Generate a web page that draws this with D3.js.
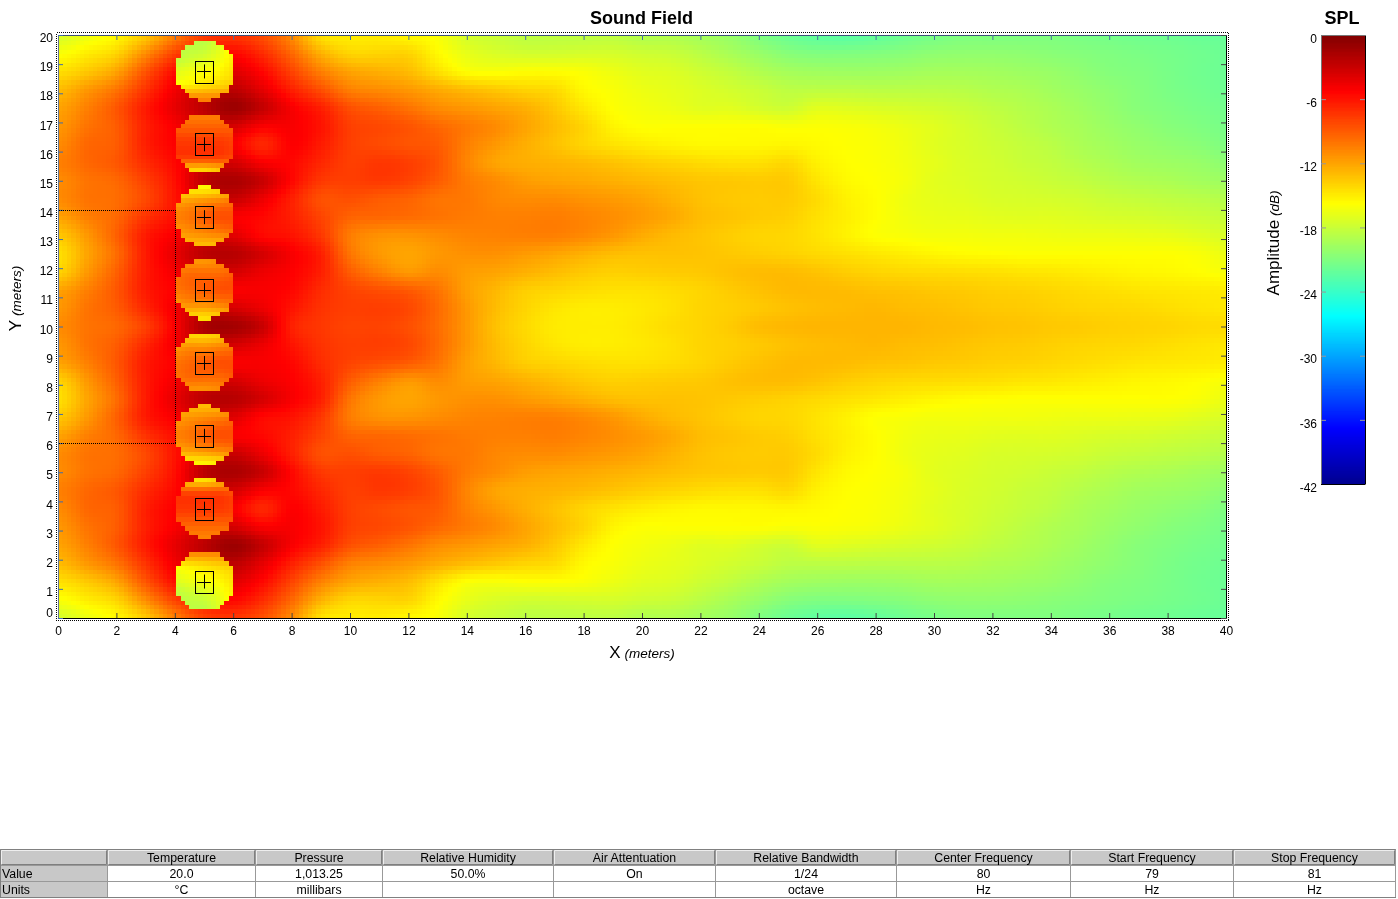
<!DOCTYPE html>
<html>
<head>
<meta charset="utf-8">
<title>Sound Field</title>
<script src="https://cdn.jsdelivr.net/npm/d3@7"></script>
<style>
  body { margin: 0; background: #fff; width: 1398px; height: 899px; overflow: hidden; position: relative; }
  canvas, svg { position: absolute; left: 0; top: 0; }
  text { font-family: "Liberation Sans", Arial, sans-serif; fill: #000; }
</style>
</head>
<body>
<canvas id="field" width="1398" height="899"></canvas>
<svg id="chart" width="1398" height="899"></svg>
<script>
// SPL in dB, one list per row, x = 0..40 in 1 m steps.
// rows go from y=0 up to y=10 every 0.625 m, the field mirrors around y=10
const rowY0000 = [-17.5,-16.5,-15.5,-13.5,-10.5,-8,-7.5,-8.5,-11,-14.5,-15,-15,-15.5,-16,-17.5,-18,-18.5,-18.5,-18.5,-18.5,-19,-19,-19.5,-20,-21,-21.8,-22.3,-22.5,-22.2,-21.7,-21.3,-21,-21,-21,-21,-21.2,-21.4,-21.6,-21.7,-21.9,-22];
const rowY0625 = [-16,-15,-14,-11,-8,-6,-5.5,-7,-9.5,-12.5,-14,-14,-14,-15.5,-16.7,-17.3,-17.6,-17.6,-17.5,-17.5,-17.8,-18,-18.6,-19.3,-20,-20.7,-21,-21,-20.9,-20.7,-20.4,-20.3,-20.3,-20.4,-20.6,-20.8,-21,-21.2,-21.4,-21.6,-21.8];
const rowY1250 = [-14.5,-13.5,-12,-8.7,-5.8,-4,-4,-5.5,-8,-10.5,-12,-12.5,-13,-14.5,-15.8,-16,-15.8,-15.8,-16,-16.5,-17,-17.2,-17.8,-18.3,-19,-19.5,-19.7,-19.8,-19.8,-19.7,-19.5,-19.5,-19.6,-19.8,-20,-20.4,-20.8,-21,-21.3,-21.6,-21.8];
const rowY1875 = [-13,-11.5,-10,-7.3,-4.8,-3,-2.5,-4.2,-6.5,-8.5,-10.5,-11,-11.5,-12.3,-13,-13.5,-14,-14.3,-15.5,-16,-16.5,-16.8,-17.2,-17.6,-18,-18.5,-18.5,-18.5,-18.6,-18.6,-18.6,-18.7,-19,-19.2,-19.6,-20,-20.4,-20.8,-21.2,-21.5,-21.7];
const rowY2500 = [-12,-10.5,-8.8,-6.3,-4.3,-2.5,-1.2,-2.8,-5,-6.5,-8.5,-9.2,-10,-11,-11.5,-12,-12.5,-13.5,-14.8,-15.8,-16.2,-16.5,-17,-17,-17.5,-17.8,-17,-17.1,-17.3,-17.5,-17.7,-18,-18.4,-18.8,-19.2,-19.7,-20.2,-20.7,-21,-21.3,-21.5];
const rowY3125 = [-11.5,-10,-9,-6.5,-5,-3.5,-3.5,-5,-5,-6,-7.8,-8.2,-8.7,-9.5,-10.3,-11,-12,-13,-14,-15.3,-15.8,-15.8,-15.8,-15.8,-15.8,-16,-15.9,-16,-16.2,-16.6,-17,-17.5,-18,-18.5,-19,-19.4,-19.9,-20.3,-20.7,-21,-21.3];
const rowY3750 = [-11,-9.5,-9,-6.5,-5.2,-4.5,-5,-6.8,-5.2,-6.3,-7.8,-8.3,-8.7,-9,-10.5,-11.5,-12.4,-13.2,-14,-14.6,-15,-15.3,-15.5,-15.5,-15.5,-15.4,-15.6,-15.8,-16,-16.4,-17,-17.4,-17.8,-18.2,-18.6,-19.2,-19.6,-20,-20.3,-20.6,-21];
const rowY4375 = [-10.5,-9.5,-8.8,-7,-5.5,-3.5,-3.5,-5,-5.5,-6.8,-7.8,-7.5,-7.8,-8.7,-10.7,-12,-12.4,-12.6,-12.9,-13.3,-13.7,-14,-14.3,-14.5,-14.5,-14.2,-15.2,-15.7,-15.9,-16.3,-16.8,-17.3,-17.6,-18,-18.3,-18.8,-19.2,-19.6,-19.8,-20,-20.4];
const rowY5000 = [-11,-10,-9.5,-7.8,-5.8,-2.5,-1.8,-3,-5.5,-7.5,-7.8,-7.6,-8,-9,-10.3,-11,-11.7,-12,-12.2,-12.5,-12.8,-13.1,-13.4,-13.5,-13.6,-13.6,-14.7,-15.5,-15.8,-16.2,-16.9,-17.2,-17.5,-17.7,-18,-18.3,-18.7,-19,-19.2,-19.5,-19.7];
const rowY5625 = [-11,-10,-9.7,-8.2,-6,-3.5,-3,-4.5,-6.5,-8.5,-8.5,-9,-9.3,-10,-10.2,-10.8,-11,-11,-11.3,-11.6,-12,-12.6,-13.2,-13.5,-13.6,-13.6,-14.3,-15.2,-15.7,-16.4,-16.8,-17,-17.3,-17.4,-17.5,-17.7,-18,-18.2,-18.4,-18.6,-18.8];
const rowY6250 = [-12,-10.5,-9.5,-7.3,-5.8,-4.5,-5,-5.5,-6.5,-8,-9.3,-9.5,-9.7,-10,-10.3,-10.5,-10.5,-10.4,-10.7,-11.1,-11.6,-12.2,-13,-13.3,-13.6,-13.8,-14.5,-15.1,-15.7,-16.3,-16.6,-16.7,-16.9,-17,-17,-17.2,-17.4,-17.5,-17.7,-17.9,-18.1];
const rowY6875 = [-13.5,-11.5,-9.2,-6.3,-5,-3.5,-4,-5.5,-6,-7.5,-10.3,-11.2,-11.3,-11,-10.7,-10.6,-10.5,-10.5,-10.9,-11.5,-12.3,-12.9,-13.3,-13.7,-14,-14.1,-14.6,-15.2,-15.8,-16,-16.2,-16.2,-16.3,-16.3,-16.4,-16.5,-16.5,-16.6,-16.7,-17,-17.3];
const rowY7500 = [-14.5,-12,-9.7,-6.3,-4.3,-2.5,-2.3,-3.5,-5,-6.5,-10,-11.5,-12,-11.5,-11.2,-11.2,-11.6,-12,-12.5,-13,-13.2,-13.2,-13.3,-13.5,-13.7,-13.9,-14.2,-14.5,-14.8,-15.1,-15.4,-15.6,-15.7,-15.8,-15.8,-15.8,-15.8,-15.8,-15.8,-16,-16.5];
const rowY8125 = [-14,-11.5,-9.2,-6.3,-4.8,-3.5,-3.5,-4.5,-5.2,-6.5,-9,-10.5,-11.5,-11,-11.7,-12,-12.5,-13,-13.5,-13.8,-13.7,-13.6,-13.5,-13.2,-13,-13,-13.3,-13.7,-14,-14.2,-14.3,-14.4,-14.5,-14.7,-14.8,-15,-15.2,-15.4,-15.5,-15.7,-16];
const rowY8750 = [-12,-10.5,-8.8,-6.3,-5.2,-4.5,-5,-5,-5.5,-7,-8,-8.5,-9,-10,-11.8,-12.8,-13.7,-14,-14.3,-14.5,-14.5,-14.3,-14,-13.6,-13.2,-12.9,-12.9,-13,-13.2,-13.3,-13.5,-13.6,-13.8,-13.9,-14.1,-14.3,-14.5,-14.7,-14.8,-14.9,-15];
const rowY9375 = [-11.5,-10,-9,-6.8,-4.8,-3,-3.5,-4.5,-6,-7.3,-7.8,-7.8,-8.2,-9.6,-11.5,-13,-14,-14.7,-15,-15,-14.8,-14.5,-14,-13.8,-13.5,-13.2,-13,-12.9,-12.8,-13,-13.1,-13.3,-13.5,-13.6,-13.8,-14,-14.1,-14.2,-14.4,-14.6,-14.8];
const rowY10000 = [-11,-10,-9.5,-7.8,-5,-1.8,-1.5,-3,-6.5,-7.5,-8,-8,-8.5,-9.7,-11.5,-13.2,-14.2,-14.9,-15,-15,-14.7,-14.3,-14,-13.6,-13,-12.8,-12.7,-12.7,-12.7,-12.7,-12.9,-13,-13.2,-13.3,-13.5,-13.6,-13.8,-13.9,-14,-14.2,-14.3];

// speakers and the near field patch around each one (5x5, dy -1..1 up, dx -1..1)
const speakerX = 5;
const speakerY = [1.25, 3.75, 6.25, 8.75, 11.25, 13.75, 16.25, 18.75];
const patch1 = [[-18,-18.5,-18.5,-17,-15],[-18.5,-18,-17.5,-16.5,-15],[-17,-16.5,-16,-15.5,-14.5],[-15.5,-15,-14.5,-14,-13.5],[-10.5,-10.5,-10.5,-10.5,-10.5]];
const patch2 = [[-10.5,-10.5,-10.5,-10.5,-10.5],[-9,-9,-9,-9,-9],[-7.5,-7.5,-7.5,-7.5,-8],[-8,-8,-8,-8,-8.5],[-15,-15,-15,-14,-13]];
const patch3 = [[-15.5,-15.5,-15.5,-15,-14],[-12,-11.5,-11,-10.5,-10],[-10.5,-10,-9,-8.5,-8.5],[-11.5,-11,-10.5,-10,-9.5],[-13,-13,-13,-13,-13]];
const patch4 = [[-11.5,-11.5,-11.5,-11,-11],[-10,-9.5,-9.5,-9.5,-9],[-10,-9.5,-9,-8.5,-8.5],[-11.5,-11,-11,-10.5,-10],[-14.5,-14.5,-14.5,-14,-13]];

const xTicks = [0,2,4,6,8,10,12,14,16,18,20,22,24,26,28,30,32,34,36,38,40];
const yTicks = [0,1,2,3,4,5,6,7,8,9,10,11,12,13,14,15,16,17,18,19,20];
const splTicks = [0,-6,-12,-18,-24,-30,-36,-42];
// jet as it sits on the -42..0 range
const jetStops = [-42,-36.75,-26.25,-21,-15.75,-5.25,0];
const jetColors = ["#00008f","#0000ff","#00ffff","#80ff80","#ffff00","#ff0000","#800000"];
// dotted coverage outline
const coverageX = [0,4,4,0];
const coverageY = [14,14,6,6];

const tableHeaders = ["","Temperature","Pressure","Relative Humidity","Air Attentuation","Relative Bandwidth","Center Frequency","Start Frequency","Stop Frequency"];
const tableValues = ["Value","20.0","1,013.25","50.0%","On","1/24","80","79","81"];
const tableUnits = ["Units","°C","millibars","","","octave","Hz","Hz","Hz"];
const tableEdges = [0,107,255,382,553,715,896,1070,1233,1395];

const halfRows = [rowY0000,rowY0625,rowY1250,rowY1875,rowY2500,rowY3125,rowY3750,rowY4375,rowY5000,rowY5625,rowY6250,rowY6875,rowY7500,rowY8125,rowY8750,rowY9375,rowY10000];
const fieldRows = halfRows.concat(halfRows.slice(0, -1).reverse());
const flip = p => p.slice().reverse();
const patches = [patch1,patch2,patch3,patch4,flip(patch4),flip(patch3),flip(patch2),flip(patch1)];

const x = d3.scaleLinear().domain([0,40]).range([58,1226]);
const y = d3.scaleLinear().domain([0,20]).range([618,35]);
const barY = d3.scaleLinear().domain([0,-42]).range([35,484]);
const color = d3.scaleLinear().domain(jetStops).range(jetColors).clamp(true);

// smooth resampling for display only, the plot is painted in 0.15 m cells
function cubic(a, b, c, d, t) {
  return b + 0.5 * t * (c - a + t * (2 * a - 5 * b + 4 * c - d + t * (3 * (b - c) + d - a)));
}
function sample(grid, fx, fy) {
  const nr = grid.length - 1, nc = grid[0].length - 1;
  const cl = (v, m) => Math.max(0, Math.min(m, v));
  const i = cl(Math.floor(fy), nr - 1), j = cl(Math.floor(fx), nc - 1);
  const tx = fx - j, ty = fy - i;
  const along = r => cubic(r[cl(j-1,nc)], r[j], r[j+1], r[cl(j+2,nc)], tx);
  return cubic(along(grid[cl(i-1,nr)]), along(grid[i]), along(grid[i+1]), along(grid[cl(i+2,nr)]), ty);
}

const ctx = document.getElementById('field').getContext('2d');
const cell = 0.15;
for (let cx = 0; cx < 40; cx += cell) {
  for (let cy = 0; cy < 20; cy += cell) {
    const mx = cx + cell / 2, my = cy + cell / 2;
    let v = sample(fieldRows, mx, my / 0.625);
    speakerY.forEach((sy, k) => {
      const dx = mx - (speakerX + 0.03), dy = my - (sy + 0.03);
      if (Math.hypot(dx, dy) <= 1.03) {
        v = sample(patches[k], (dx + 1) / 0.5, (dy + 1) / 0.5);
      }
    });
    const px0 = Math.round(x(cx)), px1 = Math.round(x(Math.min(cx + cell, 40)));
    const py0 = Math.round(y(Math.min(cy + cell, 20))), py1 = Math.round(y(cy));
    ctx.fillStyle = color(v);
    ctx.fillRect(px0, py0, px1 - px0, py1 - py0);
  }
}

const svg = d3.select('#chart');

// dotted box around the axes
svg.append('rect')
  .attr('x', 56.5).attr('y', 32.5).attr('width', 1172).attr('height', 588)
  .attr('fill', 'none').attr('stroke', '#000').attr('stroke-dasharray', '1,1')
  .attr('shape-rendering', 'crispEdges');

function axisStyle(g, lineColor, tickColor) {
  g.select('.domain').attr('stroke', lineColor);
  g.selectAll('.tick line').attr('stroke', tickColor);
  g.selectAll('text').style('font-size', '12px').attr('fill', '#000');
  return g;
}

const bottom = svg.append('g').attr('transform', 'translate(0,618)')
  .call(d3.axisBottom(x).tickValues(xTicks).tickFormat(String).tickSize(-5).tickSizeOuter(0).tickPadding(8));
axisStyle(bottom, '#000', '#444');
const top_ = svg.append('g').attr('transform', 'translate(0,35)')
  .call(d3.axisTop(x).tickValues(xTicks).tickFormat('').tickSize(-5).tickSizeOuter(0));
axisStyle(top_, '#3d4f78', '#47709f');
const left = svg.append('g').attr('transform', 'translate(58,0)')
  .call(d3.axisLeft(y).tickValues(yTicks).tickFormat(String).tickSize(-5).tickSizeOuter(0).tickPadding(5));
axisStyle(left, '#66768f', '#3f6cab');
left.selectAll('.tick text').attr('dy', d => d === 0 ? '-0.1em' : d === 20 ? '0.5em' : '0.55em');
const right = svg.append('g').attr('transform', 'translate(1226,0)')
  .call(d3.axisRight(y).tickValues(yTicks).tickFormat('').tickSize(-5).tickSizeOuter(0));
axisStyle(right, '#000', '#444');

// dotted coverage outline
svg.append('path')
  .attr('d', d3.line().x(d => Math.round(x(d[0])) + 0.5).y(d => Math.round(y(d[1])) + 0.5)(d3.zip(coverageX, coverageY)))
  .attr('fill', 'none').attr('stroke', '#000').attr('stroke-dasharray', '1,1')
  .attr('shape-rendering', 'crispEdges');

// speaker symbols
const spk = svg.selectAll('g.speaker').data(speakerY).join('g').attr('class', 'speaker');
spk.append('rect')
  .attr('x', Math.round(x(speakerX - 0.3)) + 0.5)
  .attr('y', d => Math.round(y(d + 0.375)) + 0.5)
  .attr('width', Math.round(x(0.6) - x(0)))
  .attr('height', Math.round(y(0) - y(0.75)))
  .attr('fill', 'none').attr('stroke', '#000');
spk.append('line')
  .attr('x1', x(speakerX - 0.24)).attr('x2', x(speakerX + 0.24))
  .attr('y1', d => Math.round(y(d)) + 0.5).attr('y2', d => Math.round(y(d)) + 0.5)
  .attr('stroke', '#000');
spk.append('line')
  .attr('x1', Math.round(x(speakerX)) + 0.5).attr('x2', Math.round(x(speakerX)) + 0.5)
  .attr('y1', d => y(d + 0.24)).attr('y2', d => y(d - 0.24))
  .attr('stroke', '#000');

// titles
function label(px, py, big, small, rot, bold) {
  const el = svg.append('text').attr('transform', `translate(${px},${py})` + (rot ? ' rotate(-90)' : '')).attr('text-anchor', 'middle');
  el.append('tspan').style('font-size', bold ? '18px' : '17px').style('font-weight', bold ? 'bold' : 'normal').text(big);
  if (small) el.append('tspan').style('font-size', '13.5px').style('font-style', 'italic').text(' ' + small);
  return el;
}
label(641.5, 23.5, 'Sound Field', null, false, true);
label(1342, 23.5, 'SPL', null, false, true);
label(642, 657.5, 'X', '(meters)');
label(21, 298.5, 'Y', '(meters)', true);
label(1279, 243, 'Amplitude', '(dB)', true);

// colour bar
const barSteps = d3.range(0, -42, -42 / 449);
svg.append('g').selectAll('rect').data(barSteps).join('rect')
  .attr('x', 1321).attr('width', 44)
  .attr('y', d => Math.floor(barY(d)))
  .attr('height', 2)
  .attr('fill', d => color(d));
svg.append('rect').attr('x', 1321).attr('y', 485).attr('width', 44).attr('height', 2).attr('fill', '#fff');
const barLeft = svg.append('g').attr('transform', 'translate(1321,0)')
  .call(d3.axisLeft(barY).tickValues(splTicks).tickFormat(String).tickSize(-5).tickSizeOuter(0).tickPadding(4));
axisStyle(barLeft, '#777', '#999');
barLeft.selectAll('.tick text').attr('dy', '0.6em');
const barRight = svg.append('g').attr('transform', 'translate(1365,0)')
  .call(d3.axisRight(barY).tickValues(splTicks).tickFormat('').tickSize(-5).tickSizeOuter(0));
axisStyle(barRight, '#000', '#999');
svg.append('line').attr('x1', 1321).attr('x2', 1365).attr('y1', 484.5).attr('y2', 484.5).attr('stroke', '#000');
svg.append('line').attr('x1', 1321).attr('x2', 1365).attr('y1', 35.5).attr('y2', 35.5).attr('stroke', '#777');

// parameter table
const tableTop = [849, 865, 881];
const tableRows = [tableHeaders, tableValues, tableUnits];
tableRows.forEach((row, r) => {
  row.forEach((txt, c) => {
    const x0 = tableEdges[c], x1 = tableEdges[c + 1];
    const grey = r === 0 || c === 0;
    svg.append('rect')
      .attr('x', x0 + 0.5).attr('y', tableTop[r] + 0.5)
      .attr('width', x1 - x0).attr('height', 16)
      .attr('fill', grey ? '#c8c8c8' : '#fff').attr('stroke', '#999');
    if (r === 0) {
      svg.append('path').attr('d', `M${x0+1.5},${tableTop[r]+15.5}V${tableTop[r]+1.5}H${x1-0.5}`).attr('fill', 'none').attr('stroke', '#eee');
      svg.append('path').attr('d', `M${x1-0.5},${tableTop[r]+1.5}V${tableTop[r]+15.5}H${x0+1.5}`).attr('fill', 'none').attr('stroke', '#7f7f7f');
    }
    if (txt) {
      svg.append('text')
        .attr('x', c === 0 ? 2 : (x0 + x1) / 2 + 0.5)
        .attr('y', tableTop[r] + 12.5)
        .attr('text-anchor', c === 0 ? 'start' : 'middle')
        .style('font-size', '12.3px')
        .text(txt);
    }
  });
});
svg.append('path').attr('d', 'M0.5,897.5V849.5H1395.5').attr('fill', 'none').attr('stroke', '#808080');
svg.append('line').attr('x1', 0).attr('x2', 1396).attr('y1', 897.5).attr('y2', 897.5).attr('stroke', '#808080');
</script>
</body>
</html>
